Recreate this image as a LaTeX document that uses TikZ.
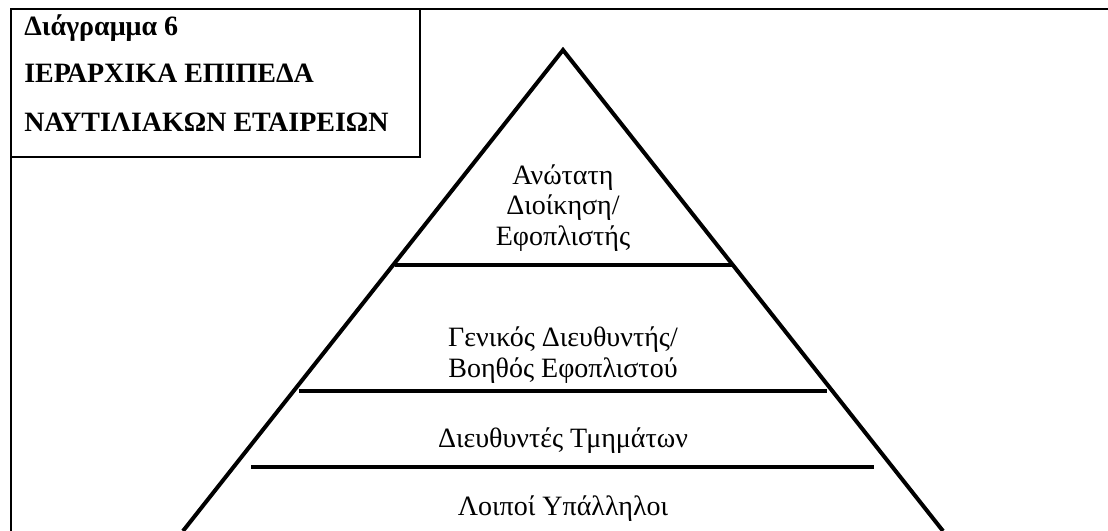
\documentclass[tikz,border=0pt]{standalone}
\usepackage{fontspec}
\setmainfont{Liberation Serif}
\usepackage{tikz}
\usetikzlibrary{positioning, calc}

\newcommand{\lvlfont}{\fontsize{21}{23}\selectfont}
\newcommand{\ttlfont}{\fontsize{21}{23}\selectfont\bfseries}

\begin{document}
\begin{tikzpicture}[
    x=0.75pt, y=-0.75pt,
    frame/.style={draw, line width=1.6pt},
    side/.style={draw, line width=3pt},
    tier/.style={draw, line width=2.6pt},
    lvl/.style={font=\lvlfont, align=center},
    ttl/.style={font=\ttlfont, anchor=base west, inner sep=0pt}
]
\useasboundingbox (0,0) rectangle (1108,531);

%% --- Frame and title box ---
\coordinate (fTL) at (11,9);
\coordinate (fBL) at (11,531);
\coordinate (fTR) at (1108,9);
\coordinate (boxBR) at (420,157);
\draw[frame] (fBL) -- (fTL) -- (fTR);
\draw[frame] (fTL) rectangle (boxBR);

\node[ttl] (t1) at (24,36)  {Διάγραμμα 6};
\node[ttl] (t2) at (24,83)  {ΙΕΡΑΡΧΙΚΑ ΕΠΙΠΕΔΑ};
\node[ttl] (t3) at (24,132) {ΝΑΥΤΙΛΙΑΚΩΝ ΕΤΑΙΡΕΙΩΝ};

%% --- Pyramid ---
\coordinate (apex)  at (563,50);
\coordinate (baseL) at (183,531);
\coordinate (baseR) at (943,531);
\draw[side, line join=miter] (baseL) -- (apex) -- (baseR);

\coordinate (s1L) at (395,265); \coordinate (s1R) at (732,265);
\coordinate (s2L) at (299,391); \coordinate (s2R) at (827,391);
\coordinate (s3L) at (251,467); \coordinate (s3R) at (874,467);
\draw[tier] (s1L) -- (s1R);
\draw[tier] (s2L) -- (s2R);
\draw[tier] (s3L) -- (s3R);

%% --- Levels ---
\node[lvl] (top)  at (563,208) {Ανώτατη\\Διοίκηση/\\Εφοπλιστής};
\node[lvl] (gen)  at (563,355) {Γενικός Διευθυντής/\\Βοηθός Εφοπλιστού};
\node[lvl, anchor=base] (dept) at (563,447) {Διευθυντές Τμημάτων};
\node[lvl, anchor=base] (staff) at (563,515) {Λοιποί Υπάλληλοι};

\end{tikzpicture}
\end{document}
